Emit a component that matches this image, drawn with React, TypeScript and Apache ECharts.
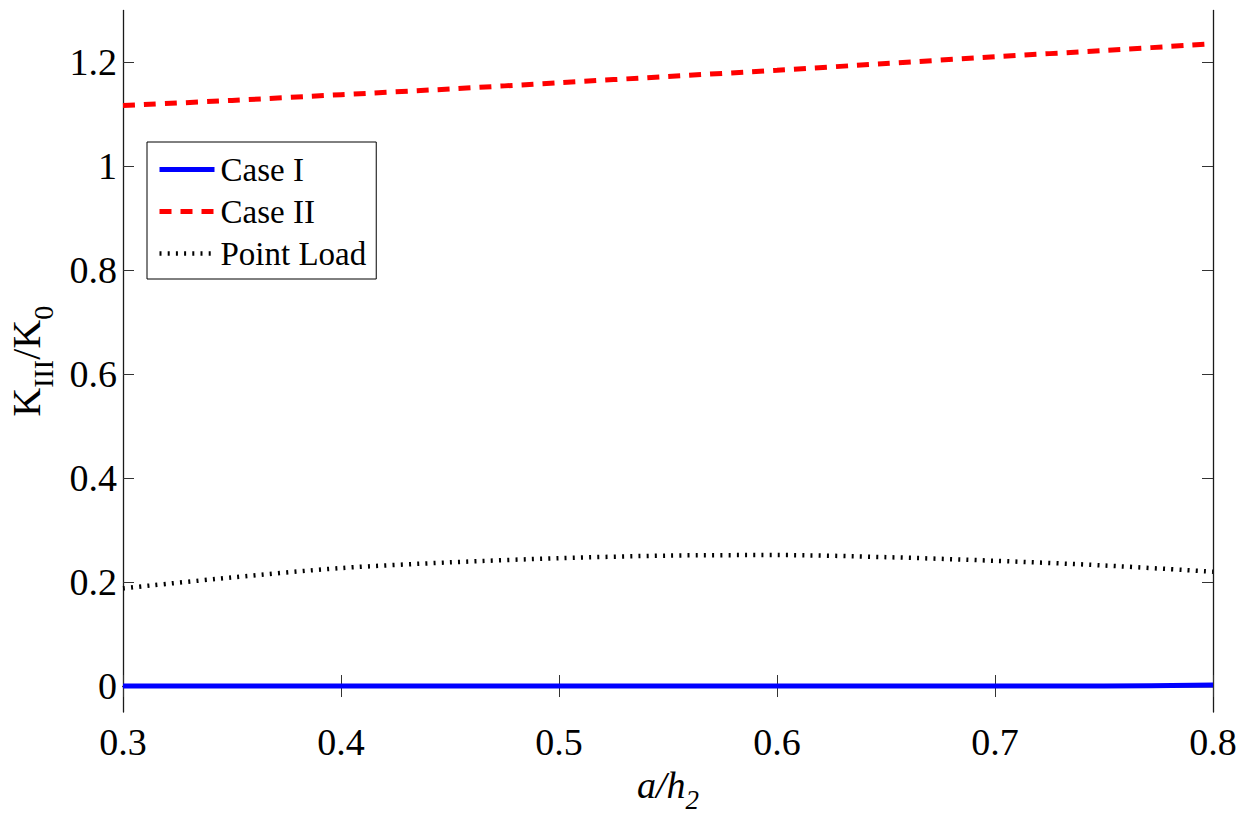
import React, { useEffect, useRef } from "react";
import * as echarts from "echarts";

// crack length ratio a/h2
const ratio = [0.3, 0.35, 0.4, 0.45, 0.5, 0.55, 0.6, 0.65, 0.7, 0.75, 0.8];
// normalised mode III stress intensity factor K_III/K_0
const caseI = [0, 0, 0, 0, 0, 0, 0, 0, 0, 0, 0.002];
const caseII = [1.117, 1.127, 1.138, 1.149, 1.161, 1.173, 1.185, 1.198, 1.211, 1.223, 1.236];
const pointLoad = [0.188, 0.209, 0.227, 0.238, 0.246, 0.251, 0.252, 0.248, 0.241, 0.232, 0.22];

const xTicks = [0.3, 0.4, 0.5, 0.6, 0.7, 0.8];
const yTicks = [0, 0.2, 0.4, 0.6, 0.8, 1, 1.2];

const FONT = "Liberation Serif";

const pairs = (ys: number[]) => ratio.map((x, i) => [x, ys[i]]);
const fmt = (v: number) => String(+Number(v).toFixed(1));

const blueLine = { color: "#0000ff", width: 5 };
const redLine = { color: "#ff0000", width: 5, type: [12, 9], cap: "butt" };
const blackLine = { color: "#000", width: 4.5, type: [2, 6.2], cap: "butt" };

export default function App() {
  const ref = useRef<HTMLDivElement>(null);

  useEffect(() => {
    document.body.style.margin = "0";
    const chart = echarts.init(ref.current!, null, { renderer: "svg" });

    const axisLine = { show: true, lineStyle: { color: "#1a1a1a", width: 1.3 } };
    const tick = { show: true, inside: true, length: 11, lineStyle: { color: "#333", width: 1 } };

    chart.setOption({
      animation: false,
      backgroundColor: "#fff",
      grid: { left: 123, top: 10.5, right: 36, bottom: 102, containLabel: false, outerBoundsMode: "none" },
      legend: {
        orient: "vertical",
        left: 147,
        top: 142,
        padding: [11, 10, 9, 10],
        itemGap: 9,
        itemWidth: 55,
        itemHeight: 14,
        borderColor: "#000",
        borderWidth: 1,
        backgroundColor: "#fff",
        itemStyle: { opacity: 0 },
        textStyle: { fontFamily: FONT, fontSize: 33, color: "#000", padding: [0, 0, 0, 1] },
        data: [
          { name: "Case I", lineStyle: blueLine },
          { name: "Case II", lineStyle: redLine },
          { name: "Point Load", lineStyle: blackLine },
        ],
      },
      xAxis: [
        {
          type: "value",
          min: 0.3,
          max: 0.8,
          position: "bottom",
          axisLine,
          axisTick: { ...tick, customValues: xTicks },
          splitLine: { show: false },
          axisLabel: {
            customValues: xTicks,
            formatter: fmt,
            fontFamily: FONT,
            fontSize: 38,
            color: "#000",
            margin: 11,
          },
          name: "{i|a/h}{s|2}",
          nameLocation: "middle",
          nameGap: 46,
          nameTextStyle: {
            rich: {
              i: { fontFamily: FONT, fontStyle: "italic", fontSize: 38, color: "#000", verticalAlign: "bottom", padding: [0, 0, 10, 0], lineHeight: 38 },
              s: { fontFamily: FONT, fontStyle: "italic", fontSize: 27, color: "#000", verticalAlign: "bottom", lineHeight: 27 },
            },
          },
        },
        {
          type: "value",
          min: 0.3,
          max: 0.8,
          position: "top",
          axisLine,
          axisTick: { ...tick, customValues: xTicks },
          axisLabel: { show: false },
          splitLine: { show: false },
        },
      ],
      yAxis: [
        {
          type: "value",
          min: -0.05,
          max: 1.3,
          position: "left",
          axisLine,
          axisTick: { ...tick, customValues: yTicks },
          splitLine: { show: false },
          axisLabel: {
            customValues: yTicks,
            formatter: fmt,
            fontFamily: FONT,
            fontSize: 38,
            color: "#000",
            margin: 6,
          },
          name: "{k|K}{s|III}{k|/K}{s|0}",
          nameLocation: "middle",
          nameGap: 66,
          nameTextStyle: {
            rich: {
              k: { fontFamily: FONT, fontSize: 40, color: "#000", verticalAlign: "bottom", padding: [0, 0, 11, 0], lineHeight: 40 },
              s: { fontFamily: FONT, fontSize: 28, color: "#000", verticalAlign: "bottom", lineHeight: 28 },
            },
          },
        },
        {
          type: "value",
          min: -0.05,
          max: 1.3,
          position: "right",
          axisLine,
          axisTick: { ...tick, customValues: yTicks },
          axisLabel: { show: false },
          splitLine: { show: false },
        },
      ],
      series: [
        {
          name: "Case I",
          type: "line",
          data: pairs(caseI),
          symbol: "none",
          smooth: 0.3,
          lineStyle: blueLine,
          itemStyle: { color: "#0000ff" },
        },
        {
          name: "Case II",
          type: "line",
          data: pairs(caseII),
          symbol: "none",
          smooth: 0.3,
          lineStyle: redLine,
          itemStyle: { color: "#ff0000" },
        },
        {
          name: "Point Load",
          type: "line",
          data: pairs(pointLoad),
          symbol: "none",
          smooth: 0.3,
          lineStyle: blackLine,
          itemStyle: { color: "#000" },
        },
      ],
    });

    return () => chart.dispose();
  }, []);

  return <div ref={ref} style={{ width: 1249, height: 814 }} />;
}
